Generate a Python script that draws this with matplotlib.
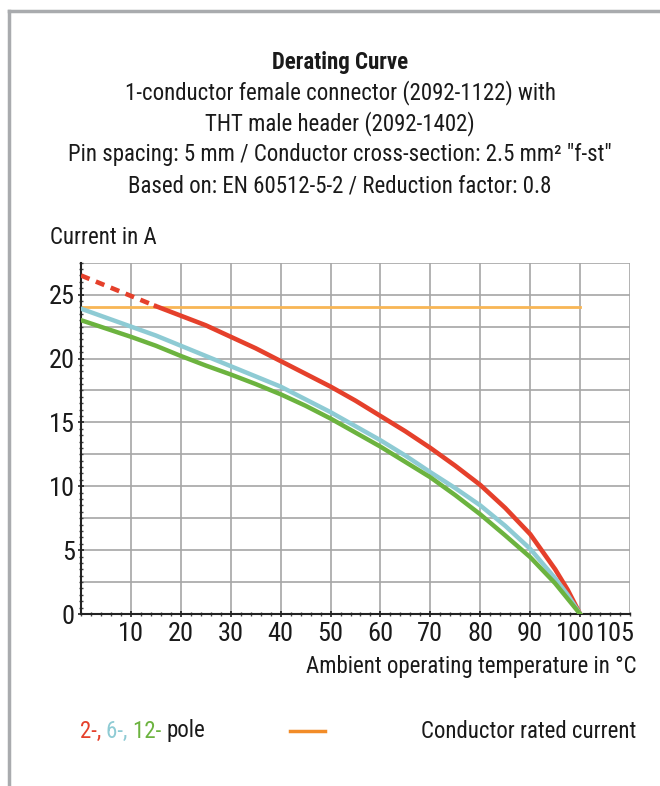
import matplotlib
matplotlib.use("Agg")
import matplotlib.pyplot as plt
import matplotlib.transforms as mtrans
from matplotlib import font_manager
from matplotlib.ticker import MultipleLocator

# narrow font like the original
names = set(f.name for f in font_manager.fontManager.ttflist)
font = "Roboto Condensed" if "Roboto Condensed" in names else "DejaVu Sans"
plt.rcParams['font.family'] = [font, 'DejaVu Sans']

temp = [0, 5, 10, 15, 20, 25, 30, 35, 40, 45, 50, 55, 60, 65, 70, 75, 80, 85, 90, 95, 97.5, 100]
red_2pole = [26.5, 25.7, 24.9, 24.1, 23.35, 22.6, 21.7, 20.8, 19.8, 18.8, 17.8, 16.7, 15.5, 14.3,
             13.0, 11.6, 10.1, 8.3, 6.25, 3.5, 1.9, 0]
blue_6pole = [23.9, 23.2, 22.5, 21.8, 21.0, 20.2, 19.4, 18.6, 17.8, 16.8, 15.8, 14.7, 13.6, 12.4,
              11.1, 9.85, 8.5, 6.9, 5.1, 2.8, 1.5, 0]
green_12pole = [23.0, 22.35, 21.7, 21.0, 20.2, 19.45, 18.75, 18.0, 17.2, 16.3, 15.3, 14.2, 13.1, 11.9,
                10.7, 9.3, 7.8, 6.15, 4.45, 2.4, 1.2, 0]
rated_current = 24.0
rated_range = [0, 100]
dashed_until = 15

xticks = [10, 20, 30, 40, 50, 60, 70, 80, 90, 100, 107]
xticklabels = ['10', '20', '30', '40', '50', '60', '70', '80', '90', '100', '105']
yticks = [0, 5, 10, 15, 20, 25]

c_red = '#e5402b'
c_blue = '#8ecbd4'
c_green = '#6cb33f'
c_orange = '#f8b655'
c_text = '#1a1a1a'
fs = 16.5

fig = plt.figure(figsize=(6.6, 7.86), dpi=100)

# frame lines top and left
fig.add_artist(plt.Line2D([9/660, 1], [1 - 11/786, 1 - 11/786], color='#a9abae', lw=2.5))
fig.add_artist(plt.Line2D([9/660, 9/660], [0, 1 - 11/786], color='#a9abae', lw=2.5))

ax = fig.add_axes([81/660, 172/786, 549/660, 351.3/786])
ax.set_xlim(0, 110)
ax.set_ylim(0, 27.5)

for x in range(10, 111, 10):
    ax.axvline(x, color='#a6a6a6', lw=1.2, zorder=1)
for y in [2.5 * i for i in range(1, 12)]:
    ax.axhline(y, color='#a6a6a6', lw=1.2, zorder=1)

# rated current
ax.plot(rated_range, [rated_current, rated_current], color=c_orange, lw=2, zorder=2)

# red: dashed part first then solid
i = temp.index(dashed_until)
ax.plot(temp[:i + 1], red_2pole[:i + 1], color=c_red, lw=3.3, ls=(0, (2, 1.5)), zorder=3)
ax.plot(temp[i:], red_2pole[i:], color=c_red, lw=3.3, zorder=3, solid_joinstyle='round')
ax.plot(temp, blue_6pole, color=c_blue, lw=3.2, zorder=3, solid_joinstyle='round')
ax.plot(temp, green_12pole, color=c_green, lw=3.2, zorder=4, solid_joinstyle='round')

for s in ['top', 'right']:
    ax.spines[s].set_visible(False)
for s in ['left', 'bottom']:
    ax.spines[s].set_linewidth(1.5)
    ax.spines[s].set_color('#222222')

ax.set_xticks(xticks)
ax.set_xticklabels(xticklabels)
ax.set_yticks(yticks)
ax.xaxis.set_minor_locator(MultipleLocator(2))
ax.yaxis.set_minor_locator(MultipleLocator(0.5))
ax.tick_params(axis='both', which='major', labelsize=19, length=5, width=1.2,
               direction='inout', colors='#222222', labelcolor=c_text)
ax.tick_params(axis='both', which='minor', length=3, width=1, direction='inout', colors='#444444')
ax.tick_params(axis='x', pad=3)
ax.tick_params(axis='y', pad=2)
ticks = ax.xaxis.get_major_ticks()
ticks[-1].tick1line.set_visible(False)
lab100 = ticks[-2].label1
lab100.set_transform(lab100.get_transform() + mtrans.ScaledTranslation(-0.05, 0, fig.dpi_scale_trans))

# titles
fig.text(340/660, 1 - 63/786, "Derating Curve", ha='center', va='center',
         fontsize=fs, fontweight='bold', color=c_text)
lines = ["1-conductor female connector (2092-1122) with",
         "THT male header (2092-1402)",
         "Pin spacing: 5 mm / Conductor cross-section: 2.5 mm\u00b2 \"f-st\"",
         "Based on: EN 60512-5-2 / Reduction factor: 0.8"]
for k, t in enumerate(lines):
    fig.text(340/660, 1 - (93 + 31 * k)/786, t, ha='center', va='center',
             fontsize=fs, color=c_text)

fig.text(50/660, 1 - 238/786, "Current in A", ha='left', va='center', fontsize=fs, color=c_text)
fig.text(636/660, 1 - 667/786, "Ambient operating temperature in \u00b0C", ha='right', va='center',
         fontsize=fs, color=c_text)

# legend
t1 = fig.text(80/660, 1 - 731/786, "2-, ", color=c_red, fontsize=fs, va='center', ha='left')
t2 = ax.annotate("6-, ", xycoords=t1, xy=(1, 0.5), va='center', ha='left', color=c_blue, fontsize=fs,
                 annotation_clip=False)
t3 = ax.annotate("12- ", xycoords=t2, xy=(1, 0.5), va='center', ha='left', color=c_green, fontsize=fs,
                 annotation_clip=False)
ax.annotate("pole", xycoords=t3, xy=(1, 0.5), va='center', ha='left', color=c_text, fontsize=fs,
            annotation_clip=False)
fig.add_artist(plt.Line2D([290/660, 325/660], [1 - 731/786, 1 - 731/786], color='#f28c28', lw=2.5))
fig.text(636/660, 1 - 731/786, "Conductor rated current", ha='right', va='center',
         fontsize=fs, color=c_text)

fig.savefig("out.png", dpi=100)
